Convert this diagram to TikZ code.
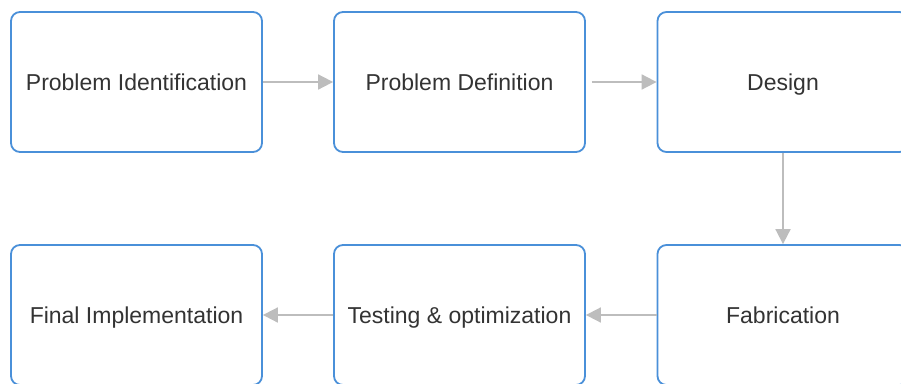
\documentclass[tikz,border=0pt]{standalone}
\usepackage{fontspec}
\setmainfont{Liberation Sans}
\usetikzlibrary{arrows.meta}
\definecolor{boxblue}{HTML}{4A90D9}
\definecolor{arrgray}{HTML}{BDBDBD}
\definecolor{txt}{HTML}{333333}
\begin{document}
\begin{tikzpicture}[x=1pt,y=-1pt,
  stepbox/.style={draw=boxblue, line width=1.8pt, rounded corners=9pt, fill=white,
    minimum width=251pt, minimum height=140pt, inner sep=0pt,
    text height=17pt, text depth=0pt,
    font=\fontsize{23}{27}\selectfont, text=txt},
  flow/.style={draw=arrgray, line width=1.8pt, -{Triangle[length=15pt,width=15pt]}}]
\useasboundingbox (0,0) rectangle (901,383);
\clip (0,0) rectangle (901,383);
\fill[white] (0,0) rectangle (901,383);
\node[stepbox] (pi) at (136.5,82) {Problem Identification};
\node[stepbox] (pd) at (459.5,82) {Problem Definition};
\node[stepbox] (ds) at (783,82) {Design};
\node[stepbox] (fi) at (136.5,315) {Final Implementation};
\node[stepbox] (to) at (459.5,315) {Testing \& optimization};
\node[stepbox] (fb) at (783,315) {Fabrication};
\draw[flow] (pi) -- (pd);
\draw[flow, shorten <=6pt] (pd) -- (ds);
\draw[flow] (ds) -- (fb);
\draw[flow] (fb) -- (to);
\draw[flow] (to) -- (fi);
\end{tikzpicture}
\end{document}
